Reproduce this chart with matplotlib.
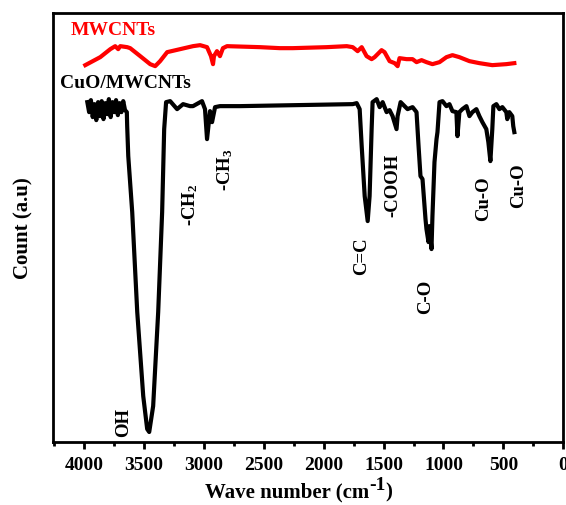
import matplotlib
matplotlib.use("Agg")
import matplotlib.pyplot as plt
from matplotlib.ticker import MultipleLocator
from matplotlib.transforms import offset_copy

plt.rcParams["font.family"] = ["Liberation Serif", "DejaVu Serif"]
plt.rcParams["font.weight"] = "bold"
plt.rcParams["mathtext.fontset"] = "custom"
plt.rcParams["mathtext.rm"] = "Liberation Serif:bold"
plt.rcParams["mathtext.bf"] = "Liberation Serif:bold"
plt.rcParams["mathtext.default"] = "rm"

# CuO/MWCNTs spectrum (wavenumber, count a.u.)
cuo_wn = [3975, 3960, 3945, 3930, 3915, 3900, 3885, 3870, 3855, 3840, 3825, 3810,
          3795, 3780, 3765, 3750, 3735, 3720, 3705, 3690, 3675, 3660, 3645, 3642,
          3633, 3600, 3558, 3508, 3475, 3458, 3425, 3383, 3350, 3333, 3317, 3283,
          3225, 3175, 3117, 3092, 3017, 2992, 2975, 2950, 2933, 2908, 2867, 2700,
          1758, 1725, 1700, 1683, 1658, 1633, 1617, 1600, 1592, 1558, 1533, 1508,
          1475, 1450, 1425, 1392, 1383, 1358, 1325, 1300, 1258, 1225, 1208, 1192,
          1175, 1150, 1142, 1125, 1117, 1100, 1092, 1075, 1058, 1050, 1033, 1008,
          975, 950, 925, 892, 883, 867, 842, 808, 783, 758, 725, 700, 675, 642,
          625, 608, 592, 583, 558, 533, 508, 475, 467, 450, 425, 417, 408]
cuo_y = [340, 330, 342, 325, 338, 322, 340, 326, 341, 323, 339, 328,
         343, 325, 340, 330, 342, 327, 339, 330, 341, 332, 330, 316,
         286, 230, 130, 46, 13, 10, 36, 130, 230, 313, 340, 341,
         333, 338, 336, 336, 341, 333, 303, 331, 320, 335, 336, 336,
         338, 339, 333, 296, 246, 221, 246, 313, 340, 343, 335, 340,
         330, 332, 326, 313, 326, 340, 336, 333, 335, 330, 296, 266,
         263, 223, 213, 200, 216, 193, 226, 280, 303, 310, 340, 341,
         336, 338, 331, 330, 306, 330, 333, 336, 326, 330, 333, 326, 320, 313,
         300, 281, 313, 336, 338, 333, 335, 330, 323, 330, 326, 316, 310]

# MWCNTs spectrum
mw_wn = [3992, 3867, 3783, 3742, 3717, 3700, 3642, 3617, 3533, 3450, 3408, 3367,
         3308, 3200, 3092, 3033, 2975, 2942, 2925, 2917, 2892, 2867, 2842, 2808,
         2533, 2367, 2258, 1975, 1808, 1758, 1717, 1683, 1642, 1600, 1575, 1517,
         1492, 1450, 1408, 1383, 1367, 1308, 1258, 1225, 1183, 1142, 1092, 1033,
         975, 925, 867, 783, 700, 592, 475, 408]
mw_y = [377, 385, 393, 396, 393, 396, 395, 394, 386, 378, 376, 381,
        390, 393, 396, 397, 395, 386, 378, 386, 391, 386, 394, 396,
        395, 394, 394, 395, 396, 395, 391, 395, 386, 383, 385, 392,
        390, 381, 379, 376, 384, 383, 383, 380, 382, 380, 378, 380,
        385, 387, 385, 381, 379, 377, 378, 379]

# peak labels (text, wavenumber, y)
peak_labels = ["OH", "-CH$_2$", "-CH$_3$", "C=C", "-COOH", "C-O", "Cu-O", "Cu-O"]
peak_wn = [3675, 3117, 2825, 1683, 1425, 1150, 667, 375]
peak_y = [21, 238, 273, 187, 258, 146, 244, 257]

fig = plt.figure(figsize=(5.66, 5.06), dpi=100)
ax = fig.add_axes([0.094, 0.1245, 0.901, 0.8475])

ax.plot(mw_wn, mw_y, color="#ff0000", lw=3, solid_joinstyle="round")
ax.plot(cuo_wn, cuo_y, color="black", lw=3, solid_joinstyle="round")

ax.text(4117, 413, "MWCNTs", color="#ff0000", fontsize=14, fontweight="bold",
        va="center", ha="left")
ax.text(4200, 360, "CuO/MWCNTs", color="black", fontsize=14, fontweight="bold",
        va="center", ha="left")
for lab, w, y in zip(peak_labels, peak_wn, peak_y):
    ax.text(w, y, lab, rotation=90, fontsize=13.5, fontweight="bold",
            ha="center", va="center")

ax.set_xlim(4260, 0)
ax.set_ylim(0, 429)
ax.xaxis.set_major_locator(MultipleLocator(500))
ax.xaxis.set_minor_locator(MultipleLocator(250))
ax.set_yticks([])
ax.tick_params(axis="x", which="major", length=5, width=2, labelsize=14, pad=5)
ax.tick_params(axis="x", which="minor", length=3, width=2)
for lbl in ax.get_xticklabels():
    lbl.set_fontweight("bold")
for sp in ax.spines.values():
    sp.set_linewidth(2)

ax.set_ylabel("Count (a.u)", fontsize=15, fontweight="bold")
ax.yaxis.set_label_coords(-0.039, 0.5)

# x label with a full-size superscript, built from three pieces
renderer = fig.canvas.get_renderer()
x0, y0 = 0.362, 0.016
t1 = fig.text(x0, y0, "Wave number (cm", fontsize=15, fontweight="bold",
              ha="left", va="baseline")
w1 = t1.get_window_extent(renderer).width
t2 = fig.text(x0, y0, "-1", fontsize=14, fontweight="bold", ha="left",
              va="baseline",
              transform=offset_copy(fig.transFigure, fig=fig, x=w1 * 72 / fig.dpi,
                                    y=6, units="points"))
w2 = t2.get_window_extent(renderer).width
fig.text(x0, y0, ")", fontsize=15, fontweight="bold", ha="left",
         va="baseline",
         transform=offset_copy(fig.transFigure, fig=fig,
                               x=(w1 + w2) * 72 / fig.dpi, y=0, units="points"))

fig.savefig("out.png", dpi=100)
